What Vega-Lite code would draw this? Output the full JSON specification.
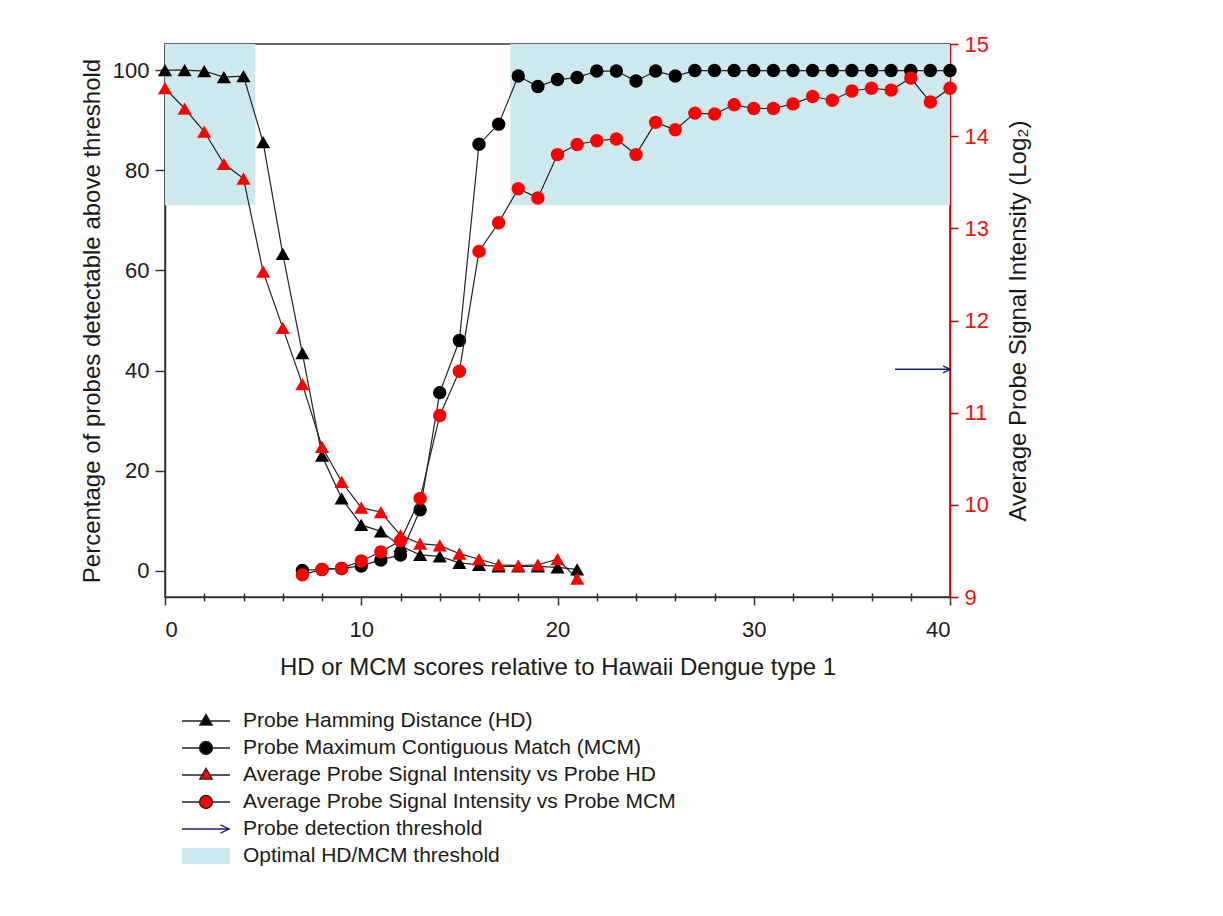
{
  "$schema": "https://vega.github.io/schema/vega-lite/v6.json",
  "width": 785,
  "height": 553,
  "autosize": {"type": "none"},
  "padding": {"left": 165, "top": 44, "right": 273, "bottom": 319},
  "background": "white",
  "config": {
    "font": "Liberation Sans",
    "view": {"stroke": "#333", "strokeWidth": 1.5},
    "axis": {
      "grid": false,
      "labelFont": "Liberation Sans",
      "titleFont": "Liberation Sans",
      "labelFontSize": 22,
      "titleFontSize": 24,
      "titleFontWeight": "normal",
      "labelColor": "#1a1a1a",
      "titleColor": "#1a1a1a",
      "domainColor": "#333",
      "tickColor": "#333",
      "domainWidth": 1.5,
      "tickWidth": 1.5
    }
  },
  "datasets": {
    "pct": [
      {"s": "HD", "x": 0, "v": 100}, {"s": "HD", "x": 1, "v": 100}, {"s": "HD", "x": 2, "v": 99.8}, {"s": "HD", "x": 3, "v": 98.6},
      {"s": "HD", "x": 4, "v": 98.8}, {"s": "HD", "x": 5, "v": 85.6}, {"s": "HD", "x": 6, "v": 63.3}, {"s": "HD", "x": 7, "v": 43.5},
      {"s": "HD", "x": 8, "v": 23.0}, {"s": "HD", "x": 9, "v": 14.5}, {"s": "HD", "x": 10, "v": 9.2}, {"s": "HD", "x": 11, "v": 7.9},
      {"s": "HD", "x": 12, "v": 5.0}, {"s": "HD", "x": 13, "v": 3.2}, {"s": "HD", "x": 14, "v": 2.9}, {"s": "HD", "x": 15, "v": 1.6},
      {"s": "HD", "x": 16, "v": 1.2}, {"s": "HD", "x": 17, "v": 0.9}, {"s": "HD", "x": 18, "v": 0.9}, {"s": "HD", "x": 19, "v": 0.9},
      {"s": "HD", "x": 20, "v": 0.7}, {"s": "HD", "x": 21, "v": 0.3},
      {"s": "MCM", "x": 7, "v": 0.1}, {"s": "MCM", "x": 8, "v": 0.3}, {"s": "MCM", "x": 9, "v": 0.5}, {"s": "MCM", "x": 10, "v": 1.0},
      {"s": "MCM", "x": 11, "v": 2.2}, {"s": "MCM", "x": 12, "v": 3.2}, {"s": "MCM", "x": 13, "v": 12.2}, {"s": "MCM", "x": 14, "v": 35.6},
      {"s": "MCM", "x": 15, "v": 46.0}, {"s": "MCM", "x": 16, "v": 85.2}, {"s": "MCM", "x": 17, "v": 89.2}, {"s": "MCM", "x": 18, "v": 98.8},
      {"s": "MCM", "x": 19, "v": 96.7}, {"s": "MCM", "x": 20, "v": 98.1}, {"s": "MCM", "x": 21, "v": 98.5}, {"s": "MCM", "x": 22, "v": 99.8},
      {"s": "MCM", "x": 23, "v": 99.8}, {"s": "MCM", "x": 24, "v": 97.8}, {"s": "MCM", "x": 25, "v": 99.8}, {"s": "MCM", "x": 26, "v": 98.8},
      {"s": "MCM", "x": 27, "v": 99.9}, {"s": "MCM", "x": 28, "v": 99.9}, {"s": "MCM", "x": 29, "v": 99.9}, {"s": "MCM", "x": 30, "v": 99.9},
      {"s": "MCM", "x": 31, "v": 99.9}, {"s": "MCM", "x": 32, "v": 99.9}, {"s": "MCM", "x": 33, "v": 99.9}, {"s": "MCM", "x": 34, "v": 99.9},
      {"s": "MCM", "x": 35, "v": 99.9}, {"s": "MCM", "x": 36, "v": 99.9}, {"s": "MCM", "x": 37, "v": 99.9}, {"s": "MCM", "x": 38, "v": 99.9},
      {"s": "MCM", "x": 39, "v": 99.9}, {"s": "MCM", "x": 40, "v": 99.9}
    ],
    "sig": [
      {"s": "HD", "x": 0, "v": 14.52}, {"s": "HD", "x": 1, "v": 14.30}, {"s": "HD", "x": 2, "v": 14.05}, {"s": "HD", "x": 3, "v": 13.70},
      {"s": "HD", "x": 4, "v": 13.54}, {"s": "HD", "x": 5, "v": 12.53}, {"s": "HD", "x": 6, "v": 11.92}, {"s": "HD", "x": 7, "v": 11.31},
      {"s": "HD", "x": 8, "v": 10.63}, {"s": "HD", "x": 9, "v": 10.25}, {"s": "HD", "x": 10, "v": 9.97}, {"s": "HD", "x": 11, "v": 9.92},
      {"s": "HD", "x": 12, "v": 9.67}, {"s": "HD", "x": 13, "v": 9.58}, {"s": "HD", "x": 14, "v": 9.56}, {"s": "HD", "x": 15, "v": 9.47},
      {"s": "HD", "x": 16, "v": 9.41}, {"s": "HD", "x": 17, "v": 9.35}, {"s": "HD", "x": 18, "v": 9.34}, {"s": "HD", "x": 19, "v": 9.35},
      {"s": "HD", "x": 20, "v": 9.41}, {"s": "HD", "x": 21, "v": 9.20},
      {"s": "MCM", "x": 7, "v": 9.24}, {"s": "MCM", "x": 8, "v": 9.30}, {"s": "MCM", "x": 9, "v": 9.31}, {"s": "MCM", "x": 10, "v": 9.39},
      {"s": "MCM", "x": 11, "v": 9.49}, {"s": "MCM", "x": 12, "v": 9.61}, {"s": "MCM", "x": 13, "v": 10.07}, {"s": "MCM", "x": 14, "v": 10.97},
      {"s": "MCM", "x": 15, "v": 11.45}, {"s": "MCM", "x": 16, "v": 12.75}, {"s": "MCM", "x": 17, "v": 13.06}, {"s": "MCM", "x": 18, "v": 13.43},
      {"s": "MCM", "x": 19, "v": 13.33}, {"s": "MCM", "x": 20, "v": 13.80}, {"s": "MCM", "x": 21, "v": 13.91}, {"s": "MCM", "x": 22, "v": 13.95},
      {"s": "MCM", "x": 23, "v": 13.97}, {"s": "MCM", "x": 24, "v": 13.80}, {"s": "MCM", "x": 25, "v": 14.15}, {"s": "MCM", "x": 26, "v": 14.07},
      {"s": "MCM", "x": 27, "v": 14.25}, {"s": "MCM", "x": 28, "v": 14.24}, {"s": "MCM", "x": 29, "v": 14.34}, {"s": "MCM", "x": 30, "v": 14.30},
      {"s": "MCM", "x": 31, "v": 14.30}, {"s": "MCM", "x": 32, "v": 14.35}, {"s": "MCM", "x": 33, "v": 14.43}, {"s": "MCM", "x": 34, "v": 14.39},
      {"s": "MCM", "x": 35, "v": 14.49}, {"s": "MCM", "x": 36, "v": 14.52}, {"s": "MCM", "x": 37, "v": 14.50}, {"s": "MCM", "x": 38, "v": 14.63},
      {"s": "MCM", "x": 39, "v": 14.37}, {"s": "MCM", "x": 40, "v": 14.52}
    ],
    "zones": [
      {"x": 0, "x2": 4.6, "y": 73, "y2": 105.2},
      {"x": 17.6, "x2": 40, "y": 73, "y2": 105.2}
    ],
    "thr": [{"x": 37.2, "x2": 40, "v": 11.47}],
    "items": [
      {"item": "Probe Hamming Distance (HD)"},
      {"item": "Probe Maximum Contiguous Match (MCM)"},
      {"item": "Average Probe Signal Intensity vs Probe HD"},
      {"item": "Average Probe Signal Intensity vs Probe MCM"},
      {"item": "Probe detection threshold"},
      {"item": "Optimal HD/MCM threshold"}
    ]
  },
  "layer": [
    {
      "layer": [
        {
          "data": {"name": "zones"},
          "mark": {"type": "rect", "color": "#cde9ed"},
          "encoding": {
            "x": {"field": "x", "type": "quantitative", "scale": {"domain": [0, 40], "nice": false, "zero": false},
                  "axis": {"orient": "bottom", "values": [0, 10, 20, 30, 40], "tickSize": 8, "labelPadding": 14, "title": "HD or MCM scores relative to Hawaii Dengue type 1", "titlePadding": 15}},
            "x2": {"field": "x2"},
            "y": {"field": "y", "type": "quantitative", "scale": {"domain": [-5.2, 105.2], "nice": false, "zero": false},
                  "axis": {"values": [0, 20, 40, 60, 80, 100], "tickSize": 10, "labelPadding": 6, "title": "Percentage of probes detectable above threshold", "titlePadding": 8}},
            "y2": {"field": "y2"}
          }
        },
        {
          "data": {"name": "pct"},
          "mark": {"type": "line", "color": "#222", "strokeWidth": 1.2},
          "encoding": {
            "x": {"field": "x", "type": "quantitative", "scale": {"domain": [0, 40], "nice": false, "zero": false},
                  "axis": {"orient": "bottom", "values": [0, 10, 20, 30, 40], "tickSize": 8, "labelPadding": 14, "title": "HD or MCM scores relative to Hawaii Dengue type 1", "titlePadding": 15}},
            "y": {"field": "v", "type": "quantitative", "scale": {"domain": [-5.2, 105.2], "nice": false, "zero": false},
                  "axis": {"values": [0, 20, 40, 60, 80, 100], "tickSize": 10, "labelPadding": 6, "title": "Percentage of probes detectable above threshold", "titlePadding": 8}},
            "detail": {"field": "s"}
          }
        },
        {
          "data": {"name": "pct"},
          "transform": [{"filter": "datum.s == 'HD'"}],
          "mark": {"type": "point", "shape": "triangle-up", "filled": true, "opacity": 1, "size": 200, "color": "black"},
          "encoding": {
            "x": {"field": "x", "type": "quantitative", "scale": {"domain": [0, 40], "nice": false, "zero": false},
                  "axis": {"orient": "bottom", "values": [0, 10, 20, 30, 40], "tickSize": 8, "labelPadding": 14, "title": "HD or MCM scores relative to Hawaii Dengue type 1", "titlePadding": 15}},
            "y": {"field": "v", "type": "quantitative", "scale": {"domain": [-5.2, 105.2], "nice": false, "zero": false},
                  "axis": {"values": [0, 20, 40, 60, 80, 100], "tickSize": 10, "labelPadding": 6, "title": "Percentage of probes detectable above threshold", "titlePadding": 8}}
          }
        },
        {
          "data": {"name": "pct"},
          "transform": [{"filter": "datum.s == 'MCM'"}],
          "mark": {"type": "point", "shape": "circle", "filled": true, "opacity": 1, "size": 180, "color": "black"},
          "encoding": {
            "x": {"field": "x", "type": "quantitative", "scale": {"domain": [0, 40], "nice": false, "zero": false},
                  "axis": {"orient": "bottom", "values": [0, 10, 20, 30, 40], "tickSize": 8, "labelPadding": 14, "title": "HD or MCM scores relative to Hawaii Dengue type 1", "titlePadding": 15}},
            "y": {"field": "v", "type": "quantitative", "scale": {"domain": [-5.2, 105.2], "nice": false, "zero": false},
                  "axis": {"values": [0, 20, 40, 60, 80, 100], "tickSize": 10, "labelPadding": 6, "title": "Percentage of probes detectable above threshold", "titlePadding": 8}}
          }
        }
      ]
    },
    {
      "layer": [
        {
          "data": {"name": "sig"},
          "mark": {"type": "line", "color": "#222", "strokeWidth": 1.2},
          "encoding": {
            "x": {"field": "x", "type": "quantitative", "scale": {"domain": [0, 40], "nice": false, "zero": false},
                  "axis": {"orient": "bottom", "values": [2, 4, 6, 8, 12, 14, 16, 18, 22, 24, 26, 28, 32, 34, 36, 38], "tickSize": 8, "offset": -4, "labels": false, "domain": false, "title": null}},
            "y": {"field": "v", "type": "quantitative", "scale": {"domain": [9, 15], "nice": false, "zero": false},
                  "axis": {"orient": "right", "values": [9, 10, 11, 12, 13, 14, 15], "tickSize": 8, "labelPadding": 6, "domainColor": "#cc0000", "tickColor": "#cc0000", "labelColor": "#ee1111", "title": "Average Probe Signal Intensity (Log₂)", "titleAngle": 270, "titleBaseline": "top", "titlePadding": 18}},
            "detail": {"field": "s"}
          }
        },
        {
          "data": {"name": "sig"},
          "transform": [{"filter": "datum.s == 'HD'"}],
          "mark": {"type": "point", "shape": "triangle-up", "filled": true, "opacity": 1, "size": 200, "color": "#ff0000"},
          "encoding": {
            "x": {"field": "x", "type": "quantitative", "scale": {"domain": [0, 40], "nice": false, "zero": false},
                  "axis": {"orient": "bottom", "values": [2, 4, 6, 8, 12, 14, 16, 18, 22, 24, 26, 28, 32, 34, 36, 38], "tickSize": 8, "offset": -4, "labels": false, "domain": false, "title": null}},
            "y": {"field": "v", "type": "quantitative", "scale": {"domain": [9, 15], "nice": false, "zero": false},
                  "axis": {"orient": "right", "values": [9, 10, 11, 12, 13, 14, 15], "tickSize": 8, "labelPadding": 6, "domainColor": "#cc0000", "tickColor": "#cc0000", "labelColor": "#ee1111", "title": "Average Probe Signal Intensity (Log₂)", "titleAngle": 270, "titleBaseline": "top", "titlePadding": 18}}
          }
        },
        {
          "data": {"name": "sig"},
          "transform": [{"filter": "datum.s == 'MCM'"}],
          "mark": {"type": "point", "shape": "circle", "filled": true, "opacity": 1, "size": 180, "color": "#ff0000"},
          "encoding": {
            "x": {"field": "x", "type": "quantitative", "scale": {"domain": [0, 40], "nice": false, "zero": false},
                  "axis": {"orient": "bottom", "values": [2, 4, 6, 8, 12, 14, 16, 18, 22, 24, 26, 28, 32, 34, 36, 38], "tickSize": 8, "offset": -4, "labels": false, "domain": false, "title": null}},
            "y": {"field": "v", "type": "quantitative", "scale": {"domain": [9, 15], "nice": false, "zero": false},
                  "axis": {"orient": "right", "values": [9, 10, 11, 12, 13, 14, 15], "tickSize": 8, "labelPadding": 6, "domainColor": "#cc0000", "tickColor": "#cc0000", "labelColor": "#ee1111", "title": "Average Probe Signal Intensity (Log₂)", "titleAngle": 270, "titleBaseline": "top", "titlePadding": 18}}
          }
        },
        {
          "data": {"name": "thr"},
          "mark": {"type": "rule", "color": "#1f1f80", "strokeWidth": 1.5},
          "encoding": {
            "x": {"field": "x", "type": "quantitative", "scale": {"domain": [0, 40], "nice": false, "zero": false},
                  "axis": {"orient": "bottom", "values": [2, 4, 6, 8, 12, 14, 16, 18, 22, 24, 26, 28, 32, 34, 36, 38], "tickSize": 8, "offset": -4, "labels": false, "domain": false, "title": null}},
            "x2": {"field": "x2"},
            "y": {"field": "v", "type": "quantitative", "scale": {"domain": [9, 15], "nice": false, "zero": false},
                  "axis": {"orient": "right", "values": [9, 10, 11, 12, 13, 14, 15], "tickSize": 8, "labelPadding": 6, "domainColor": "#cc0000", "tickColor": "#cc0000", "labelColor": "#ee1111", "title": "Average Probe Signal Intensity (Log₂)", "titleAngle": 270, "titleBaseline": "top", "titlePadding": 18}}
          }
        },
        {
          "data": {"name": "thr"},
          "mark": {"type": "point", "shape": "M-1,-0.5L0,0L-1,0.5", "filled": false, "opacity": 1, "size": 196, "stroke": "#1f1f80", "strokeWidth": 1.5},
          "encoding": {
            "x": {"field": "x2", "type": "quantitative", "scale": {"domain": [0, 40], "nice": false, "zero": false},
                  "axis": {"orient": "bottom", "values": [2, 4, 6, 8, 12, 14, 16, 18, 22, 24, 26, 28, 32, 34, 36, 38], "tickSize": 8, "offset": -4, "labels": false, "domain": false, "title": null}},
            "y": {"field": "v", "type": "quantitative", "scale": {"domain": [9, 15], "nice": false, "zero": false},
                  "axis": {"orient": "right", "values": [9, 10, 11, 12, 13, 14, 15], "tickSize": 8, "labelPadding": 6, "domainColor": "#cc0000", "tickColor": "#cc0000", "labelColor": "#ee1111", "title": "Average Probe Signal Intensity (Log₂)", "titleAngle": 270, "titleBaseline": "top", "titlePadding": 18}}
          }
        },
        {
          "data": {"name": "items"},
          "mark": {"type": "point", "filled": true, "opacity": 0},
          "encoding": {
            "fill": {"field": "item", "type": "nominal",
              "scale": {"domain": ["Probe Hamming Distance (HD)", "Probe Maximum Contiguous Match (MCM)", "Average Probe Signal Intensity vs Probe HD", "Average Probe Signal Intensity vs Probe MCM", "Probe detection threshold", "Optimal HD/MCM threshold"],
                        "range": ["black", "black", "#ff0000", "#ff0000", "transparent", "#cde9ed"]},
              "legend": {"title": null, "orient": "none", "legendX": 16, "legendY": 667, "padding": 0, "clipHeight": 20, "rowPadding": 6, "symbolSize": 2304, "symbolStrokeWidth": 1.3, "symbolOpacity": 1, "labelFontSize": 21, "labelColor": "#1a1a1a", "labelLimit": 1000, "labelOffset": 12, "labelFont": "Liberation Sans"}},
            "stroke": {"field": "item", "type": "nominal",
              "scale": {"domain": ["Probe Hamming Distance (HD)", "Probe Maximum Contiguous Match (MCM)", "Average Probe Signal Intensity vs Probe HD", "Average Probe Signal Intensity vs Probe MCM", "Probe detection threshold", "Optimal HD/MCM threshold"],
                        "range": ["#222", "#222", "#222", "#222", "#1f1f80", "transparent"]},
              "legend": {"title": null, "orient": "none", "legendX": 16, "legendY": 667, "padding": 0, "clipHeight": 20, "rowPadding": 6, "symbolSize": 2304, "symbolStrokeWidth": 1.3, "symbolOpacity": 1, "labelFontSize": 21, "labelColor": "#1a1a1a", "labelLimit": 1000, "labelOffset": 12, "labelFont": "Liberation Sans"}},
            "shape": {"field": "item", "type": "nominal",
              "scale": {"domain": ["Probe Hamming Distance (HD)", "Probe Maximum Contiguous Match (MCM)", "Average Probe Signal Intensity vs Probe HD", "Average Probe Signal Intensity vs Probe MCM", "Probe detection threshold", "Optimal HD/MCM threshold"],
                        "range": [
                          "M-1,0H-0.16M0.16,0H1M0,-0.28L0.26,0.17L-0.26,0.17Z",
                          "M-1,0H-0.27M0.27,0H1M0.27,0A0.27,0.27,0,1,1,-0.27,0A0.27,0.27,0,1,1,0.27,0Z",
                          "M-1,0H-0.16M0.16,0H1M0,-0.28L0.26,0.17L-0.26,0.17Z",
                          "M-1,0H-0.27M0.27,0H1M0.27,0A0.27,0.27,0,1,1,-0.27,0A0.27,0.27,0,1,1,0.27,0Z",
                          "M-1,0H0.97M0.6,-0.17L0.97,0L0.6,0.17",
                          "M-1,-0.33H1V0.33H-1Z"
                        ]},
              "legend": {"title": null, "orient": "none", "legendX": 16, "legendY": 667, "padding": 0, "clipHeight": 20, "rowPadding": 6, "symbolSize": 2304, "symbolStrokeWidth": 1.3, "symbolOpacity": 1, "labelFontSize": 21, "labelColor": "#1a1a1a", "labelLimit": 1000, "labelOffset": 12, "labelFont": "Liberation Sans"}}
          }
        }
      ]
    }
  ],
  "resolve": {"scale": {"y": "independent"}, "axis": {"x": "independent"}}
}
